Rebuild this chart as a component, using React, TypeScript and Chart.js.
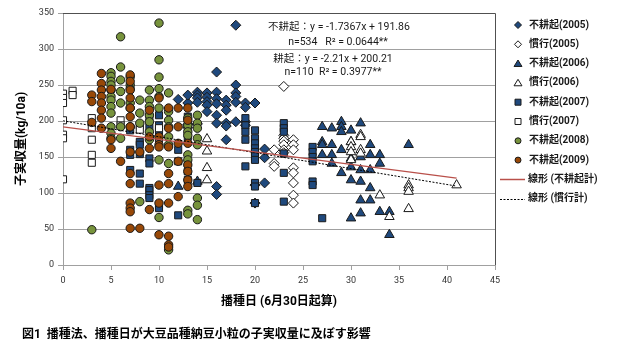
import React, { useEffect, useRef } from 'react';
import { Chart, registerables } from 'chart.js';

Chart.register(...registerables);

type P = [number, number];

// 不耕起(2005) – filled diamonds
const noTill2005: P[] = [
  [12, 230], [13, 225], [13, 195], [13, 236], [14, 240], [14, 236], [14, 232], [14, 226], [14, 196],
  [15, 239], [15, 233], [15, 227], [15, 222], [15, 213], [16, 268], [16, 240], [16, 231], [16, 224],
  [16, 208], [16, 197], [16, 109], [16, 98], [17, 229], [17, 222], [17, 215], [17, 197], [17, 193],
  [17, 174], [18, 333], [18, 250], [18, 239], [18, 234], [18, 226], [18, 199], [19, 225], [19, 219],
  [19, 199], [19, 194], [20, 225], [21, 161], [21, 149], [21, 114], [20, 111], [20, 86],
];
// 慣行(2005) – open diamonds
const conv2005: P[] = [
  [23, 248], [23, 180], [23, 176], [23, 172], [23, 167], [23, 160], [23, 156], [22, 160], [22, 141],
  [22, 137], [24, 174], [24, 167], [24, 160], [24, 135], [24, 128], [24, 114], [24, 97], [24, 86],
];
// 不耕起(2006) – filled triangles
const noTill2006: P[] = [
  [12, 109], [14, 116], [27, 192], [28, 190], [29, 199], [29, 192], [29, 185], [30, 187], [31, 197],
  [27, 171], [27, 167], [27, 153], [28, 167], [28, 153], [28, 141], [29, 160], [29, 128], [30, 171],
  [30, 148], [30, 136], [30, 118], [30, 65], [31, 150], [31, 132], [31, 116], [31, 90], [31, 72],
  [32, 167], [32, 153], [32, 132], [32, 107], [32, 90], [33, 153], [33, 141], [33, 74], [34, 74],
  [34, 42], [36, 167],
];
// 慣行(2006) – open triangles
const conv2006: P[] = [
  [13, 194], [15, 175], [15, 158], [15, 135], [15, 118], [30, 171], [30, 164], [30, 157], [30, 146],
  [31, 181], [31, 178], [31, 160], [31, 155], [33, 97], [34, 67], [36, 111], [36, 107], [36, 102],
  [36, 78], [41, 111],
];
// 不耕起(2007) – filled squares
const noTill2007: P[] = [
  [7, 187], [7, 160], [7, 153], [7, 132], [8, 194], [8, 171], [8, 167], [8, 154], [8, 127], [8, 113],
  [9, 206], [9, 192], [9, 148], [9, 141], [9, 107], [9, 104], [9, 97], [9, 93], [10, 208], [10, 194],
  [10, 185], [10, 176], [10, 83], [10, 79], [12, 160], [12, 144], [12, 69], [13, 206], [13, 201],
  [13, 178], [13, 141], [13, 130], [13, 118], [14, 114], [19, 204], [19, 194], [19, 185], [19, 174],
  [19, 137], [20, 187], [20, 176], [20, 169], [20, 162], [20, 157], [20, 151], [20, 146], [20, 114],
  [20, 109], [20, 86], [23, 197], [23, 190], [23, 185], [23, 155], [23, 128], [23, 88], [26, 164],
  [26, 157], [26, 150], [26, 144], [26, 116], [26, 111], [27, 65],
];
// 慣行(2007) – open squares
const conv2007: P[] = [
  [0, 238], [0, 232], [0, 225], [0, 201], [0, 181], [0, 176], [0, 119], [1, 242], [1, 236], [3, 204],
  [3, 190], [3, 174], [3, 153], [3, 142], [6, 201], [6, 194], [8, 188], [10, 190], [10, 176], [13, 190],
];
// 不耕起(2008) – green circles
const noTill2008: P[] = [
  [3, 49], [5, 267], [5, 262], [5, 255], [5, 250], [5, 243], [5, 234], [5, 229], [5, 220], [5, 211],
  [5, 192], [5, 183], [5, 176], [6, 317], [6, 275], [6, 257], [6, 241], [6, 225], [6, 192], [6, 176],
  [7, 261], [7, 250], [7, 245], [7, 225], [7, 218], [7, 192], [8, 229], [8, 211], [8, 197], [8, 88],
  [9, 243], [9, 229], [9, 220], [9, 208], [9, 199], [9, 185], [9, 174], [10, 336], [10, 285], [10, 261],
  [10, 245], [10, 234], [10, 218], [10, 146], [10, 66], [11, 239], [11, 213], [11, 201], [11, 192],
  [11, 178], [11, 167], [11, 141], [11, 21], [13, 204], [13, 194], [13, 185], [13, 180], [13, 153],
  [13, 146], [13, 76], [13, 71], [14, 208], [14, 197], [14, 190], [14, 176], [14, 167], [14, 93],
  [14, 83], [14, 63],
];
// 不耕起(2009) – brown circles
const noTill2009: P[] = [
  [3, 236], [3, 227], [3, 198], [4, 266], [4, 252], [4, 243], [4, 234], [4, 225], [4, 215], [4, 204],
  [4, 190], [5, 244], [5, 174], [5, 162], [6, 144], [7, 264], [7, 255], [7, 243], [7, 232], [7, 218],
  [7, 206], [7, 192], [7, 157], [7, 127], [7, 113], [7, 86], [7, 79], [7, 74], [7, 51], [8, 157],
  [8, 51], [9, 215], [9, 178], [9, 162], [9, 77], [10, 232], [10, 178], [10, 167], [10, 164], [10, 111],
  [10, 86], [10, 42], [11, 218], [11, 190], [11, 164], [11, 127], [11, 113], [11, 86], [11, 40],
  [11, 28], [11, 25], [12, 218], [12, 192], [12, 169], [12, 144], [12, 95], [13, 218], [13, 201],
  [13, 169], [13, 139], [13, 130], [13, 118], [13, 109],
];
// trend lines (endpoints)
const trendNoTill: P[] = [[0, 191.86], [41, 120.65]];
const trendConv: P[] = [[0, 200.21], [41, 109.6]];

const seriesLabels = [
  '不耕起(2005)', '慣行(2005)', '不耕起(2006)', '慣行(2006)',
  '不耕起(2007)', '慣行(2007)', '不耕起(2008)', '不耕起(2009)',
];
const lineLabels = ['線形 (不耕起計)', '線形 (慣行計)'];
const eqTexts = [
  '不耕起：y = -1.7367x + 191.86',
  'n=534   R² = 0.0644**',
  '耕起：y = -2.21x + 200.21',
  'n=110  R² = 0.3977**',
];
const xTitle = '播種日 (6月30日起算)';
const yTitle = '子実収量(kg/10a)';
const caption = '図1  播種法、播種日が大豆品種納豆小粒の子実収量に及ぼす影響';

const BLUE = '#1F497D';
const GREEN = '#77933C';
const BROWN = '#984807';
const WHITE = '#FFFFFF';
const EDGE = '#1a1a1a';
const RED = '#B9504A';
const FONT = "Roboto, 'Noto Sans CJK JP', sans-serif";

type Style = 'rectRot' | 'triangle' | 'rect' | 'circle';
const styles: { s: Style; fill: string; r: number }[] = [
  { s: 'rectRot', fill: BLUE, r: 5 },
  { s: 'rectRot', fill: WHITE, r: 5 },
  { s: 'triangle', fill: BLUE, r: 5.5 },
  { s: 'triangle', fill: WHITE, r: 5.5 },
  { s: 'rect', fill: BLUE, r: 5 },
  { s: 'rect', fill: WHITE, r: 5 },
  { s: 'circle', fill: GREEN, r: 4.2 },
  { s: 'circle', fill: BROWN, r: 4.2 },
];
const seriesData = [noTill2005, conv2005, noTill2006, conv2006, noTill2007, conv2007, noTill2008, noTill2009];

function drawMarker(ctx: CanvasRenderingContext2D, s: Style, x: number, y: number, r: number, fill: string) {
  ctx.beginPath();
  if (s === 'circle') ctx.arc(x, y, r, 0, Math.PI * 2);
  else if (s === 'rect') ctx.rect(x - r, y - r, 2 * r, 2 * r);
  else if (s === 'rectRot') {
    ctx.moveTo(x, y - r); ctx.lineTo(x + r, y); ctx.lineTo(x, y + r); ctx.lineTo(x - r, y); ctx.closePath();
  } else {
    ctx.moveTo(x, y - r); ctx.lineTo(x + r * 1.1, y + r * 0.8); ctx.lineTo(x - r * 1.1, y + r * 0.8); ctx.closePath();
  }
  ctx.fillStyle = fill;
  ctx.fill();
  ctx.lineWidth = 1;
  ctx.strokeStyle = EDGE;
  ctx.stroke();
}

const overlay = {
  id: 'overlay',
  beforeDraw(chart: any) {
    const { ctx, width, height } = chart;
    ctx.save();
    ctx.fillStyle = '#fff';
    ctx.fillRect(0, 0, width, height);
    ctx.restore();
  },
  afterDraw(chart: any) {
    const { ctx, chartArea } = chart;
    const { left, top, right, bottom } = chartArea;
    ctx.save();
    // plot border top/right
    ctx.strokeStyle = '#505050';
    ctx.lineWidth = 1;
    ctx.beginPath();
    ctx.moveTo(left, Math.round(top) + 0.5);
    ctx.lineTo(Math.round(right) + 0.5, Math.round(top) + 0.5);
    ctx.lineTo(Math.round(right) + 0.5, bottom);
    ctx.stroke();

    // equation texts
    ctx.fillStyle = '#1a1a1a';
    ctx.textAlign = 'center';
    ctx.textBaseline = 'middle';
    ctx.font = `10.5px ${FONT}`;
    const eqPos = [[339, 27], [338, 42], [333, 59], [333, 72]];
    eqTexts.forEach((t, i) => ctx.fillText(t, eqPos[i][0], eqPos[i][1]));

    // legend
    ctx.textAlign = 'left';
    ctx.font = `bold 10px ${FONT}`;
    const step = 19.3;
    seriesLabels.forEach((t, i) => {
      const y = 25 + i * step;
      const st = styles[i];
      const rr = st.s === 'circle' ? 3 : st.s === 'rect' ? 3 : st.s === 'triangle' ? 3.6 : 3.5;
      drawMarker(ctx, st.s, 518, y, rr, st.fill);
      ctx.fillStyle = '#1a1a1a';
      ctx.fillText(t, 529, y);
    });
    lineLabels.forEach((t, i) => {
      const y = 25 + (8 + i) * step;
      ctx.beginPath();
      if (i === 0) { ctx.strokeStyle = RED; ctx.lineWidth = 1.5; ctx.setLineDash([]); }
      else { ctx.strokeStyle = '#000'; ctx.lineWidth = 1; ctx.setLineDash([2, 1.5]); }
      ctx.moveTo(500, Math.round(y) + 0.5);
      ctx.lineTo(525, Math.round(y) + 0.5);
      ctx.stroke();
      ctx.setLineDash([]);
      ctx.fillStyle = '#1a1a1a';
      ctx.fillText(t, 528, y);
    });

    // caption
    ctx.font = `bold 12px ${FONT}`;
    ctx.fillStyle = '#000';
    ctx.fillText(caption, 22, 335);
    ctx.restore();
  },
};

export default function App() {
  const ref = useRef<HTMLCanvasElement | null>(null);
  useEffect(() => {
    if (!ref.current) return;
    const scatterSets = seriesData.map((d, i) => ({
      type: 'scatter' as const,
      label: seriesLabels[i],
      data: d.map(([x, y]) => ({ x, y })),
      pointStyle: styles[i].s,
      pointRadius: styles[i].r,
      pointBackgroundColor: styles[i].fill,
      pointBorderColor: EDGE,
      pointBorderWidth: 1,
      backgroundColor: styles[i].fill,
      borderColor: EDGE,
      order: 10 - i,
    }));
    const lineSets = [
      {
        type: 'line' as const,
        label: lineLabels[0],
        data: trendNoTill.map(([x, y]) => ({ x, y })),
        borderColor: RED,
        borderWidth: 1.2,
        pointRadius: 0,
        fill: false,
        showLine: true,
        order: 0,
      },
      {
        type: 'line' as const,
        label: lineLabels[1],
        data: trendConv.map(([x, y]) => ({ x, y })),
        borderColor: '#000000',
        borderWidth: 1,
        borderDash: [2, 1.5],
        pointRadius: 0,
        fill: false,
        showLine: true,
        order: 0,
      },
    ];
    const chart = new Chart(ref.current, {
      type: 'scatter',
      data: { datasets: [...lineSets, ...scatterSets] as any },
      plugins: [overlay],
      options: {
        animation: false,
        responsive: false,
        maintainAspectRatio: false,
        layout: { padding: { left: 0, top: 13, right: 125, bottom: 0 } },
        plugins: { legend: { display: false }, tooltip: { enabled: false } },
        scales: {
          x: {
            type: 'linear',
            min: 0,
            max: 45,
            afterFit: (s: any) => { s.height = 92; },
            ticks: { stepSize: 5, font: { size: 9, family: FONT }, color: '#333', padding: 5 },
            grid: { drawOnChartArea: false, drawTicks: true, tickLength: 5, color: '#a0a0a0' },
            border: { color: '#a0a0a0' },
            title: {
              display: true,
              text: xTitle,
              font: { size: 12, weight: 'bold', family: FONT },
              color: '#000',
              padding: { top: 0, bottom: 47.8 },
            },
          },
          y: {
            type: 'linear',
            min: 0,
            max: 350,
            afterFit: (s: any) => { s.width = 63; },
            ticks: { stepSize: 50, font: { size: 9, family: FONT }, color: '#333', padding: 4 },
            grid: { color: '#a0a0a0', tickLength: 5 },
            border: { color: '#a0a0a0' },
            title: {
              display: true,
              text: yTitle,
              font: { size: 12, weight: 'bold', family: FONT },
              color: '#000',
              padding: { top: 15, bottom: 0 },
            },
          },
        },
      } as any,
    });
    return () => chart.destroy();
  }, []);
  return (
    <div style={{ position: 'absolute', left: 0, top: 0, width: 620, height: 357, background: '#fff' }}>
      <canvas ref={ref} width={620} height={357} style={{ display: 'block' }} />
    </div>
  );
}
